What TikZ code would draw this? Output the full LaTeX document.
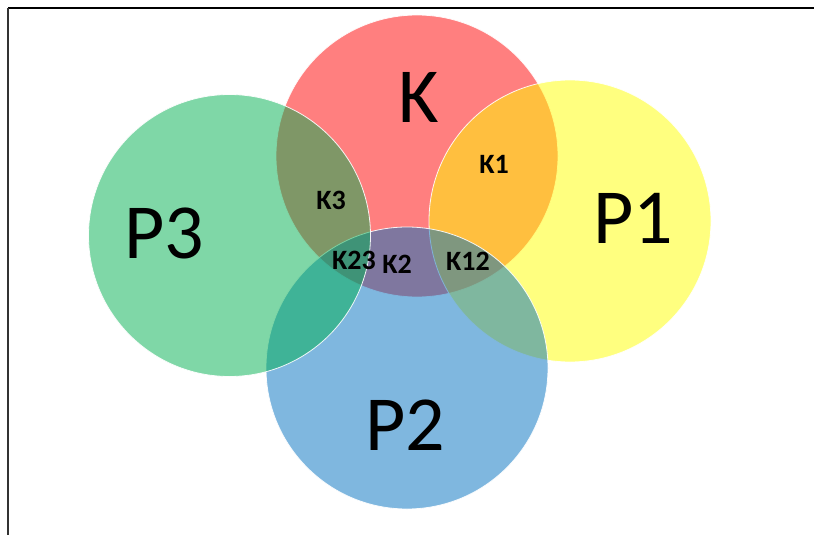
\documentclass[tikz,border=0pt]{standalone}
\usepackage{fontspec}
\setmainfont{Carlito}
\definecolor{cK}{RGB}{255,0,0}
\definecolor{cPone}{RGB}{255,255,0}
\definecolor{cPtwo}{RGB}{0,112,192}
\definecolor{cPthree}{RGB}{0,176,80}
\tikzset{
  setcircle/.style={circle, minimum size=282pt, inner sep=0pt, outer sep=0pt,
    fill=#1, fill opacity=0.5, draw=white, draw opacity=0.9, line width=0.8pt},
  biglabel/.style={inner sep=0pt, font=\fontsize{78}{78}\selectfont, text=black},
  smalllabel/.style={inner sep=0pt, font=\fontsize{28}{28}\selectfont\bfseries, text=black},
  frameline/.style={line width=1.2pt}
}
\begin{document}
\begin{tikzpicture}[x=1pt,y=-1pt]
\useasboundingbox (0,0) rectangle (814,535);
\fill[white] (0,0) rectangle (814,535);
\coordinate (fc) at (8,8);
\coordinate (fr) at (814,8);
\coordinate (fb) at (8,535);
\draw[frameline, black] (fc) -- (fr);
\draw[frameline, black!80] (fc) -- (fb);
% circles
\node[setcircle=cK] (K) at (417,156) {};
\node[setcircle=cPone] (P1) at (570,221) {};
\node[setcircle=cPtwo] (P2) at (407,368) {};
\node[setcircle=cPthree] (P3) at (229.5,235.5) {};
% big labels
\node[biglabel] (lK) at (419,97) {K};
\node[biglabel] (lP1) at (633,218) {P1};
\node[biglabel] (lP2) at (405,425) {P2};
\node[biglabel] (lP3) at (164,233) {P3};
% small labels
\node[smalllabel] (lK1) at (494,164) {K1};
\node[smalllabel] (lK3) at (331,200) {K3};
\node[smalllabel] (lK23) at (354,260) {K23};
\node[smalllabel] (lK2) at (397,264) {K2};
\node[smalllabel] (lK12) at (468,261) {K12};
\end{tikzpicture}
\end{document}
